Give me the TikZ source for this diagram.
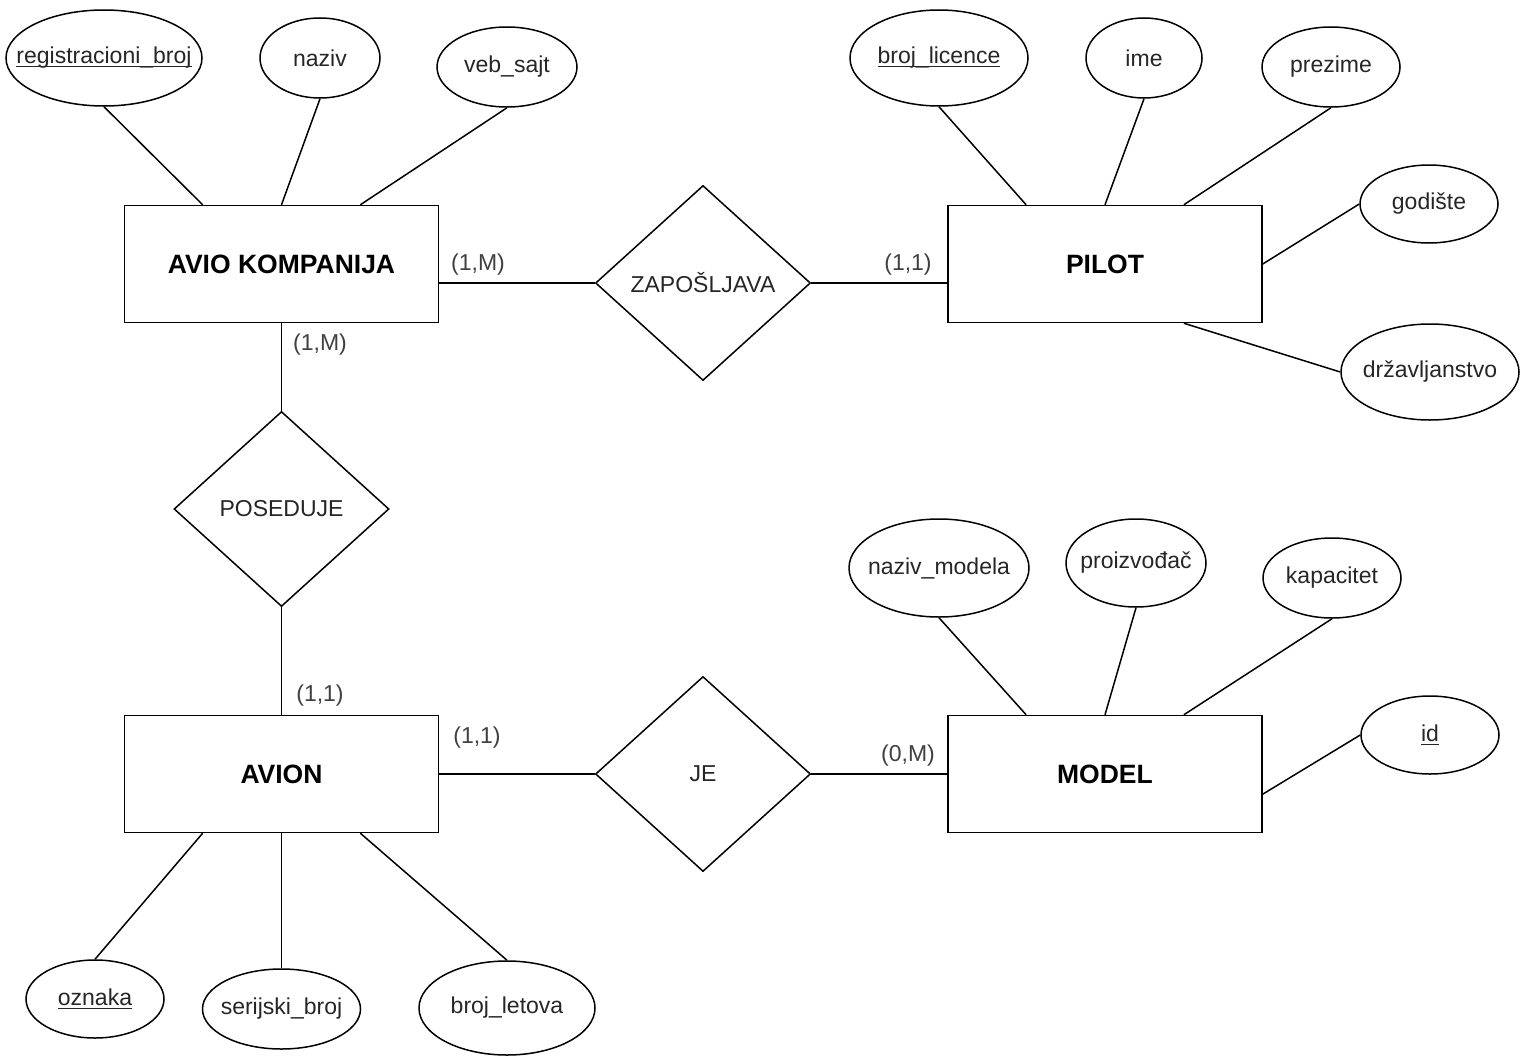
\documentclass[tikz,border=0pt]{standalone}
\usepackage{fontspec}
\setmainfont{Liberation Sans}
\usetikzlibrary{shapes.geometric,calc}

% key attribute: text with a line a little below its baseline
\newsavebox{\keybox}
\newcommand{\keyattr}[1]{%
  \sbox{\keybox}{#1}%
  \rlap{\rule[-3.5pt]{\wd\keybox}{1.3pt}}\usebox{\keybox}}
% attribute text that does not widen its ellipse
\newcommand{\attrlabel}[1]{\makebox[0pt]{#1}}

\begin{document}
\begin{tikzpicture}[x=1pt, y=-1pt, line width=1.5pt,
  entity/.style={draw, rectangle, minimum width=314pt, minimum height=117pt,
    inner sep=0pt, font=\fontsize{26.5}{30}\selectfont\bfseries},
  rel/.style={draw, diamond, minimum width=215pt, minimum height=195pt,
    inner sep=0pt, font=\fontsize{23}{27}\selectfont, text=black!85},
  attr/.style={draw, ellipse, inner sep=0pt,
    font=\fontsize{23}{27}\selectfont, text=black!85},
  card/.style={inner sep=0pt, font=\fontsize{23}{27}\selectfont, text=black!75},
  link/.style={line width=1.5pt}]

% canvas
\fill[white] (0,0) rectangle (1528,1057);
\useasboundingbox (0,0) rectangle (1528,1057);

% entities
\node[entity] (avio)  at (281.5,264) {AVIO KOMPANIJA};
\node[entity] (pilot) at (1105,264) {PILOT};
\node[entity] (avion) at (281.5,774) {AVION};
\node[entity] (model) at (1105,774) {MODEL};

% relationships
\node[rel] (zap) at (703,283) {ZAPOŠLJAVA};
\node[rel] (pos) at (281.5,509) {POSEDUJE};
\node[rel] (je)  at (703,774) {JE};

% attributes of AVIO KOMPANIJA
\node[attr, minimum width=196pt, minimum height=96pt] (regbr) at (104,58) {\attrlabel{\keyattr{registracioni\_broj}}};
\node[attr, minimum width=120pt, minimum height=80pt] (naziv) at (320,58) {\attrlabel{naziv}};
\node[attr, minimum width=140pt, minimum height=80pt] (veb)   at (507,67) {\attrlabel{veb\_sajt}};

% attributes of PILOT
\node[attr, minimum width=178pt, minimum height=96pt] (lic)   at (939,58) {\attrlabel{\keyattr{broj\_licence}}};
\node[attr, minimum width=116pt, minimum height=80pt] (ime)   at (1144,58) {\attrlabel{ime}};
\node[attr, minimum width=138pt, minimum height=80pt] (prez)  at (1331,67) {\attrlabel{prezime}};
\node[attr, minimum width=138pt, minimum height=78pt] (god)   at (1429,204) {\attrlabel{godište}};
\node[attr, minimum width=178pt, minimum height=96pt] (drz)   at (1430,372) {\attrlabel{državljanstvo}};

% attributes of MODEL
\node[attr, minimum width=180pt, minimum height=98pt] (nmod)  at (939,568) {\attrlabel{naziv\_modela}};
\node[attr, minimum width=140pt, minimum height=88pt] (proiz) at (1136,563) {\attrlabel{proizvođač}};
\node[attr, minimum width=138pt, minimum height=80pt] (kap)   at (1332,578) {\attrlabel{kapacitet}};
\node[attr, minimum width=138pt, minimum height=78pt] (id)    at (1430,735) {\attrlabel{\keyattr{id}}};

% attributes of AVION
\node[attr, minimum width=138pt, minimum height=78pt] (ozn)   at (95,999) {\attrlabel{\keyattr{oznaka}}};
\node[attr, minimum width=158pt, minimum height=80pt] (ser)   at (281.5,1009) {\attrlabel{serijski\_broj}};
\node[attr, minimum width=176pt, minimum height=94pt] (let)   at (507,1008) {\attrlabel{broj\_letova}};

% attribute links
\draw[link] (regbr.south) -- ($(avio.north west)!0.25!(avio.north east)$);
\draw[link] (naziv.south) -- (avio.north);
\draw[link] (veb.south)   -- ($(avio.north west)!0.75!(avio.north east)$);

\draw[link] (lic.south)  -- ($(pilot.north west)!0.25!(pilot.north east)$);
\draw[link] (ime.south)  -- (pilot.north);
\draw[link] (prez.south) -- ($(pilot.north west)!0.75!(pilot.north east)$);
\draw[link] (god.west)   -- (pilot.east);
\draw[link] (drz.west)   -- ($(pilot.south west)!0.75!(pilot.south east)$);

\draw[link] (nmod.south)  -- ($(model.north west)!0.25!(model.north east)$);
\draw[link] (proiz.south) -- (model.north);
\draw[link] (kap.south)   -- ($(model.north west)!0.75!(model.north east)$);
\draw[link] (id.west)     -- ($(model.north east)!0.67!(model.south east)$);

\draw[link] (ozn.north) -- ($(avion.south west)!0.25!(avion.south east)$);
\draw[link] (ser.north) -- (avion.south);
\draw[link] (let.north) -- ($(avion.south west)!0.75!(avion.south east)$);

% relationship links
\draw[link] (zap.west -| avio.east) -- (zap.west);
\draw[link] (zap.east) -- (zap.east -| pilot.west);
\draw[link] (avio.south) -- (pos.north);
\draw[link] (pos.south) -- (avion.north);
\draw[link] (avion.east) -- (je.west);
\draw[link] (je.east) -- (model.west);

% cardinalities
\node[card] (c1) at (478,265) {(1,M)};
\node[card] (c2) at (320,345) {(1,M)};
\node[card] (c3) at (908,265) {(1,1)};
\node[card] (c4) at (320,696) {(1,1)};
\node[card] (c5) at (477,738) {(1,1)};
\node[card] (c6) at (908,756) {(0,M)};

\end{tikzpicture}
\end{document}
